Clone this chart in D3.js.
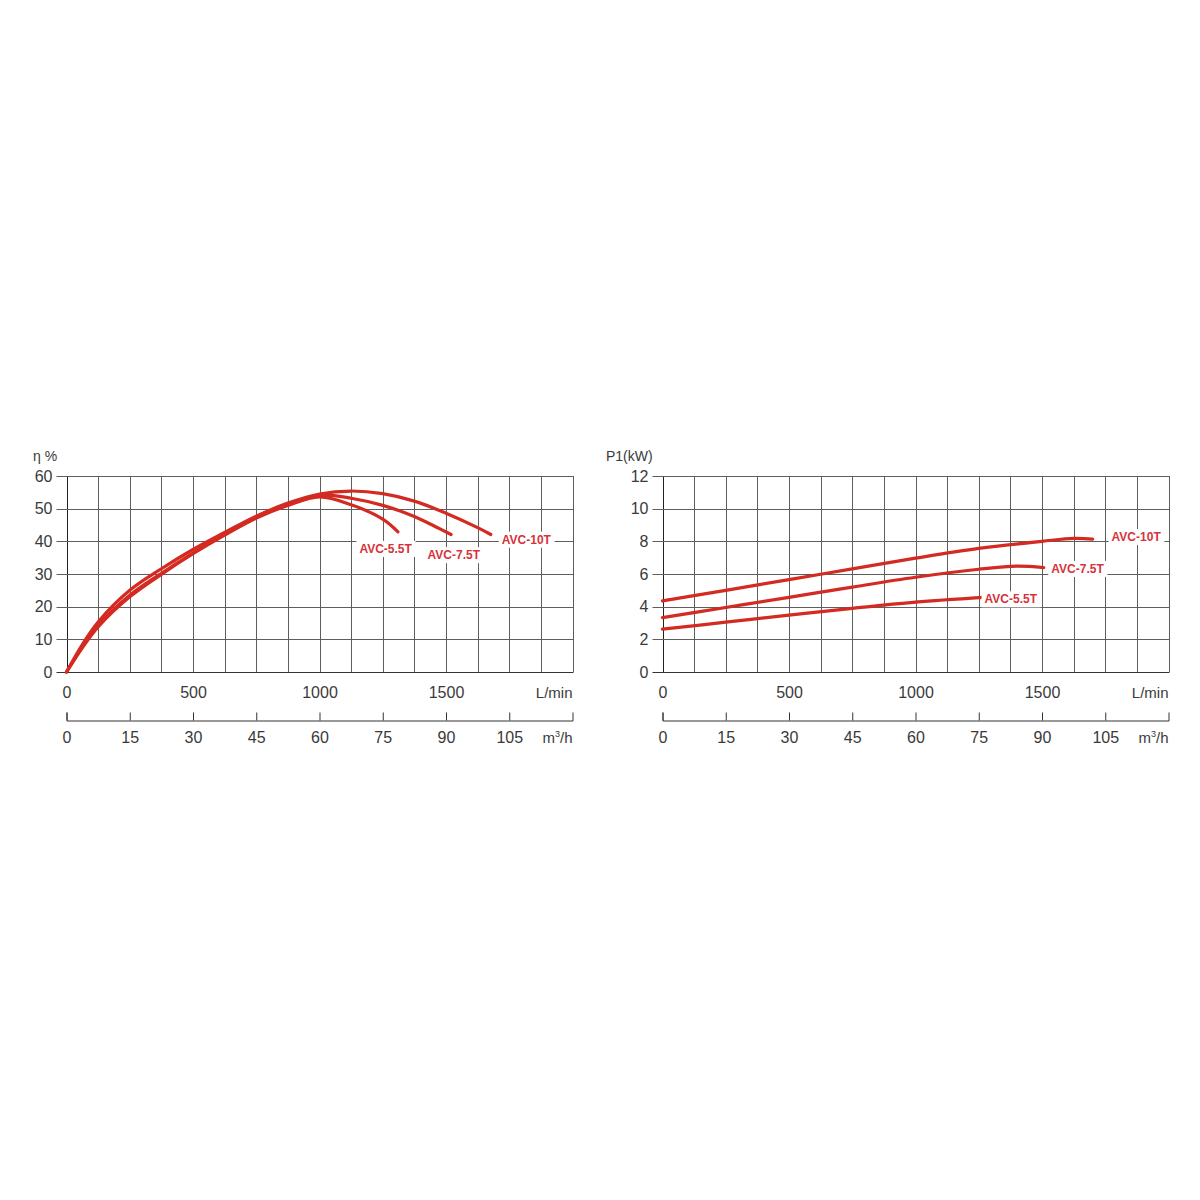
<!DOCTYPE html>
<html><head><meta charset="utf-8">
<script src="https://cdn.jsdelivr.net/npm/d3@7"></script>
<style>
html,body{margin:0;padding:0;background:#fff;}
svg{display:block;}
text{font-family:"Liberation Sans",Arial,sans-serif;}
</style></head>
<body>
<svg id="chart" width="1200" height="1200"></svg>
<script>
// ---------------- DATA ----------------
const models = ["AVC-5.5T", "AVC-7.5T", "AVC-10T"];
const flowTicksLmin = [0, 500, 1000, 1500];
const flowTicksM3h = [0, 15, 30, 45, 60, 75, 90, 105];
const effTicks = [0, 10, 20, 30, 40, 50, 60];
const powTicks = [0, 2, 4, 6, 8, 10, 12];

// Efficiency η % vs flow (L/min)
const eff55Q = [0, 62.5, 125, 250, 375, 500, 625, 750, 875, 1000, 1125, 1250, 1310];
const eff55  = [0, 7.4, 13.8, 23, 29.9, 36.2, 41.9, 47.1, 51.0, 53.6, 51.2, 46.8, 42.9];
const eff75Q = [0, 62.5, 125, 250, 375, 500, 625, 750, 875, 1000, 1125, 1250, 1375, 1463, 1520];
const eff75  = [0, 7.6, 14.2, 23.5, 30.2, 36.4, 42.1, 47.3, 51.3, 54.1, 53.2, 51.0, 47.6, 44.3, 42.1];
const eff10Q = [0, 62.5, 125, 250, 375, 500, 625, 750, 875, 1000, 1125, 1250, 1375, 1500, 1625, 1677];
const eff10  = [0, 8.4, 15.3, 25.0, 31.6, 37.5, 42.7, 47.7, 51.7, 54.5, 55.4, 54.6, 52.3, 48.6, 44.2, 42.1];

// Power P1 (kW) vs flow (L/min)
const pow55Q = [0, 250, 500, 750, 1000, 1265];
const pow55  = [2.62, 3.05, 3.48, 3.9, 4.28, 4.57];
const pow75Q = [0, 250, 500, 750, 1000, 1250, 1400, 1507];
const pow75  = [3.33, 3.95, 4.57, 5.2, 5.8, 6.29, 6.48, 6.39];
const pow10Q = [0, 250, 500, 750, 1000, 1250, 1500, 1625, 1700];
const pow10  = [4.35, 5.0, 5.66, 6.31, 6.97, 7.57, 8.0, 8.18, 8.14];

// ---------------- LAYOUT ----------------
const svg = d3.select("#chart");
const RED = "#d32a22";
const LABEL_RED = "#d6333b";
const GRID = "#5e5e5e";
const TXT = "#3a3a3a";
const FS = 16;
const FONT = "Liberation Sans, Arial, sans-serif";

const panels = [
  { x0: 66.5, yLabel: "η %", yLabelX: 33, yMax: 60, yTicks: effTicks,
    series: [[eff55Q, eff55], [eff75Q, eff75], [eff10Q, eff10]],
    labelOff: [[-38.5, 21], [-23.5, 24.7], [11, 9.2]] },
  { x0: 662.5, yLabel: "P1(kW)", yLabelX: 606, yMax: 12, yTicks: powTicks,
    series: [[pow55Q, pow55], [pow75Q, pow75], [pow10Q, pow10]],
    labelOff: [[2, 6], [7.5, 5.3], [19, 2]] }
];
const W = 506, TOP = 476, BOT = 672, AX2 = 720;

panels.forEach(p => {
  const g = svg.append("g");
  const x = d3.scaleLinear().domain([0, 2000]).range([p.x0, p.x0 + W]);
  const xm = d3.scaleLinear().domain([0, 120]).range([p.x0, p.x0 + W]);
  const y = d3.scaleLinear().domain([0, p.yMax]).range([BOT, TOP]);

  // grid
  const vlines = d3.range(0, 2001, 125);
  g.selectAll(".vg").data(vlines).enter().append("line")
    .attr("x1", d => Math.round(x(d)) + 0.5).attr("x2", d => Math.round(x(d)) + 0.5)
    .attr("y1", TOP).attr("y2", BOT)
    .attr("stroke", d => d === 0 ? "#222" : GRID).attr("stroke-width", 1);
  g.selectAll(".hg").data(p.yTicks).enter().append("line")
    .attr("x1", p.x0 - 10).attr("x2", p.x0 + W + 1)
    .attr("y1", d => Math.round(y(d)) + 0.5).attr("y2", d => Math.round(y(d)) + 0.5)
    .attr("stroke", d => d === 0 ? "#333" : GRID).attr("stroke-width", 1);

  // y axis labels
  const ya = d3.axisLeft(y).tickValues(p.yTicks).tickSize(10).tickPadding(4);
  const yg = g.append("g").attr("transform", `translate(${p.x0},0)`).call(ya);
  yg.select(".domain").remove();
  yg.selectAll(".tick line").remove();
  yg.selectAll("text").attr("font-size", FS).attr("fill", TXT).attr("font-family", FONT);

  g.append("text").attr("x", p.yLabelX).attr("y", 461).attr("font-size", 14).attr("fill", TXT).text(p.yLabel);

  // L/min axis (labels only)
  const xa = d3.axisBottom(x).tickValues(flowTicksLmin).tickFormat(d3.format("d")).tickSize(0).tickPadding(15);
  const xg = g.append("g").attr("transform", `translate(0,${BOT})`).call(xa);
  xg.select(".domain").remove();
  xg.selectAll("text").attr("font-size", FS).attr("fill", TXT).attr("font-family", FONT);
  g.append("text").attr("x", p.x0 + W).attr("y", 698).attr("text-anchor", "end")
    .attr("font-size", 15).attr("fill", TXT).text("L/min");

  // m3/h axis
  const xma = d3.axisBottom(xm).tickValues(flowTicksM3h).tickFormat(d3.format("d"))
    .tickSizeInner(-8).tickSizeOuter(-8).tickPadding(11);
  const xmg = g.append("g").attr("transform", `translate(0,${AX2 + 0.5})`).call(xma);
  xmg.select(".domain").attr("stroke", "#333");
  xmg.selectAll(".tick line").attr("stroke", "#333");
  xmg.selectAll("text").attr("font-size", FS).attr("fill", TXT).attr("font-family", FONT);
  const mt = g.append("text").attr("x", p.x0 + W).attr("y", 743).attr("text-anchor", "end")
    .attr("font-size", 15).attr("fill", TXT);
  mt.append("tspan").text("m");
  mt.append("tspan").attr("font-size", 9).attr("dy", -6).text("3");
  mt.append("tspan").attr("dy", 6).text("/h");

  // curves
  const line = d3.line().x(d => x(d[0])).y(d => y(d[1])).curve(d3.curveCatmullRom.alpha(0.5));
  p.series.forEach((s, i) => {
    const pts = s[0].map((q, k) => [q, s[1][k]]);
    g.append("path").attr("d", line(pts)).attr("fill", "none")
      .attr("stroke", RED).attr("stroke-width", 3.2).attr("stroke-linecap", "round");
  });

  // labels
  p.series.forEach((s, i) => {
    const last = s[0].length - 1;
    const ex = x(s[0][last]), ey = y(s[1][last]);
    const lg = g.append("g");
    const t = lg.append("text").attr("x", ex + p.labelOff[i][0]).attr("y", ey + p.labelOff[i][1])
      .attr("font-size", 12).attr("font-weight", "bold").attr("fill", LABEL_RED).text(models[i]);
    const bb = t.node().getBBox();
    lg.insert("rect", "text").attr("x", bb.x - 3).attr("y", bb.y - 1)
      .attr("width", bb.width + 6).attr("height", bb.height + 2).attr("fill", "#fff");
  });
});
</script>
</body></html>
